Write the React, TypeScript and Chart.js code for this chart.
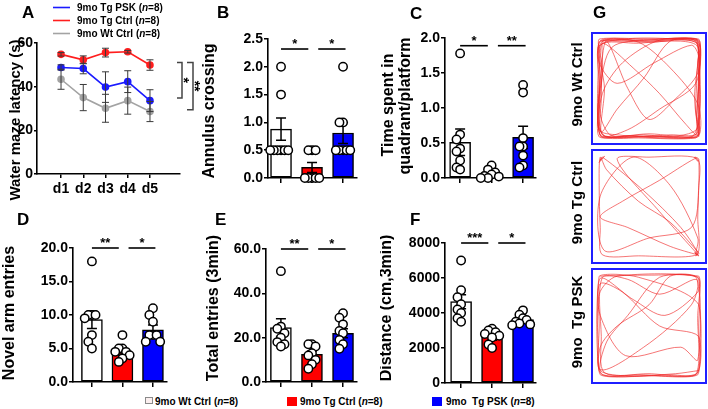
import React, { useEffect, useRef } from 'react';
import { Chart, registerables } from 'chart.js';

Chart.register(...registerables);

const FONT = '"Liberation Sans", Arial, Helvetica, sans-serif';
Chart.defaults.font.family = FONT;

const RED = '#ff0000';
const BLUE = '#0000ff';
const GRAY = '#a3a3a3';
const LINE_RED = '#ff1e1e';
const LINE_BLUE = '#1a1aff';

// ---------------- Panel A: water maze latency ----------------
const days = ['d1', 'd2', 'd3', 'd4', 'd5'];
const latencyPsk = [48.8, 48.3, 39.8, 42.3, 33.6];
const latencyPskSem = [1.2, 2.4, 7.0, 5.0, 5.0];
const latencyTg = [54.8, 52.3, 55.6, 56.0, 49.9];
const latencyTgSem = [0.8, 1.8, 2.0, 0.6, 2.4];
const latencyWt = [43.4, 35.0, 30.1, 33.6, 28.6];
const latencyWtSem = [4.6, 6.0, 6.4, 6.2, 4.6];
const latencySig = ['*', '**'];

// ---------------- Bar panels ----------------
const groupNames = ['9mo Wt Ctrl', '9mo Tg Ctrl', '9mo Tg PSK'];

const annulusMean = [0.88, 0.19, 0.81];
const annulusSem = [0.2, 0.09, 0.19];
const annulusWt = [2.0, 1.5, 0.5, 0.5, 0.5, 0.5, 0.5, 0.5];
const annulusTg = [0.5, 0.5, 0.5, 0, 0, 0, 0, 0];
const annulusPsk = [2.0, 1.0, 1.0, 0.5, 0.5, 0.5, 0.5, 0.5];
const annulusSig = ['*', '*'];

const quadrantMean = [0.51, 0.05, 0.58];
const quadrantSem = [0.19, 0.03, 0.16];
const quadrantWt = [1.78, 0.62, 0.55, 0.42, 0.38, 0.25, 0.12, 0.15];
const quadrantTg = [0.18, 0.12, 0.08, 0.05, 0.03, 0.02, 0.0, 0.0];
const quadrantPsk = [1.33, 1.22, 0.57, 0.45, 0.45, 0.32, 0.18, 0.15];
const quadrantSig = ['*', '**'];

const novelMean = [9.3, 4.4, 7.8];
const novelSem = [1.3, 0.4, 0.7];
const novelWt = [18, 10, 10, 10, 9.5, 7, 6, 5];
const novelTg = [7, 5, 5, 4.5, 4.5, 4, 3.5, 3];
const novelPsk = [11, 10, 9, 7, 7, 7, 6, 6];
const novelSig = ['**', '*'];

const totalMean = [24.5, 12.5, 22.0];
const totalSem = [4.0, 1.5, 2.0];
const totalWt = [50, 25, 24, 22, 20, 18, 17, 16];
const totalTg = [17, 17, 16, 13, 12, 10, 8, 6];
const totalPsk = [31, 29, 26, 23, 22, 19, 17, 15];
const totalSig = ['**', '*'];

const distanceMean = [4650, 2650, 3620];
const distanceSem = [400, 200, 150];
const distanceWt = [7000, 5300, 4900, 4500, 4200, 4000, 3700, 3500];
const distanceTg = [3100, 3000, 2900, 2800, 2700, 2600, 2200, 2000];
const distancePsk = [4150, 3900, 3700, 3600, 3500, 3400, 3350, 3300];
const distanceSig = ['***', '*'];

// ---------------- Panel G: open field tracks (arena units 0-100) ----------------
const trackWt: number[][] = [
  [4, 96], [30, 97], [60, 98], [96, 97], [97, 70], [96, 40], [97, 10], [95, 3], [60, 2], [30, 4], [3, 3], [2, 30],
  [4, 60], [3, 95], [20, 96], [50, 95], [94, 95], [95, 60], [94, 30], [95, 6], [70, 5], [40, 3], [6, 5], [5, 40],
  [6, 80], [7, 94], [35, 70], [60, 45], [85, 15], [96, 5], [97, 50], [98, 96], [70, 96], [45, 60], [20, 30], [5, 8],
  [8, 50], [4, 92], [40, 94], [80, 96], [96, 90], [95, 20], [93, 4], [50, 6], [8, 4], [3, 20], [5, 70], [10, 96],
  [30, 50], [50, 20], [75, 40], [96, 65], [96, 96], [60, 97], [25, 75], [6, 45], [4, 5], [35, 4], [80, 3], [97, 4],
  [96, 35], [70, 70], [40, 95], [5, 97], [3, 75], [20, 55], [55, 75], [90, 92], [97, 80], [96, 12], [65, 3], [20, 5],
  [3, 10], [4, 50], [15, 90], [50, 97], [97, 98], [94, 55], [60, 30], [30, 10], [4, 4], [2, 65], [6, 96], [45, 96],
  [95, 96], [97, 30], [94, 2], [40, 2], [5, 3], [3, 40], [4, 85], [8, 97], [50, 96], [93, 97], [97, 60], [95, 25],
  [97, 5], [75, 2], [45, 5], [10, 3], [2, 15], [3, 55], [2, 90], [25, 98], [75, 98], [97, 93], [96, 75], [98, 45],
  [96, 15], [90, 3], [55, 4], [15, 4], [4, 25], [6, 70], [3, 98], [55, 98], [95, 98], [93, 40], [97, 3],
];
const trackTg: number[][] = [
  [5, 96], [3, 92], [8, 98], [4, 94], [6, 97], [45, 65], [80, 30], [96, 6], [94, 3], [97, 5], [95, 8], [70, 35],
  [40, 55], [10, 85], [4, 97], [3, 70], [4, 30], [6, 4], [40, 3], [95, 4], [96, 40], [97, 95], [93, 97], [96, 93],
  [94, 96], [60, 75], [25, 55], [4, 40], [30, 30], [70, 12], [96, 4], [93, 6], [97, 3], [60, 45], [20, 95], [50, 97],
  [95, 96], [97, 70], [90, 30], [50, 20], [8, 8], [4, 60], [35, 97], [70, 70], [96, 20], [94, 5], [96, 8],
];
const trackPsk: number[][] = [
  [4, 97], [50, 98], [96, 96], [97, 50], [96, 4], [50, 3], [4, 4], [3, 50], [4, 95], [35, 75], [65, 60], [96, 82],
  [96, 96], [60, 96], [30, 60], [10, 35], [5, 5], [40, 4], [95, 5], [97, 40], [60, 50], [25, 82], [4, 90], [4, 60],
  [28, 22], [80, 30], [96, 18], [95, 95], [70, 97], [50, 70], [20, 50], [4, 30], [6, 4], [70, 4], [96, 6], [97, 70],
  [40, 96], [3, 97], [3, 10], [45, 30], [90, 70], [95, 94], [60, 80], [30, 94], [6, 96], [5, 40], [8, 6], [50, 5],
  [94, 4], [96, 60], [97, 97], [20, 97], [3, 80], [2, 30], [4, 8], [30, 3], [75, 5], [97, 8],
];

// ---------------- helpers ----------------
type Box = { left: number; top: number; width: number; height: number };
type Area = { left: number; right: number; top: number; bottom: number };

function drawRotated(ctx: CanvasRenderingContext2D, t: string, x: number, y: number, font: string, angle = -Math.PI / 2,
  baseline: CanvasTextBaseline = 'middle') {
  ctx.save();
  ctx.translate(x, y);
  ctx.rotate(angle);
  ctx.font = font;
  ctx.fillStyle = '#000';
  ctx.textAlign = 'center';
  ctx.textBaseline = baseline;
  ctx.fillText(t, 0, 0);
  ctx.restore();
}

function drawRich(ctx: CanvasRenderingContext2D, parts: Array<[string, boolean]>, x: number, y: number, size: number) {
  let cx = x;
  ctx.fillStyle = '#000';
  ctx.textAlign = 'left';
  ctx.textBaseline = 'alphabetic';
  for (const [t, it] of parts) {
    ctx.font = `${it ? 'italic ' : ''}bold ${size}px ${FONT}`;
    ctx.fillText(t, cx, y);
    cx += ctx.measureText(t).width;
  }
}

function drawLetter(ctx: CanvasRenderingContext2D, letter: string, x: number, y: number) {
  ctx.font = `bold 17px ${FONT}`;
  ctx.fillStyle = '#000';
  ctx.textAlign = 'left';
  ctx.textBaseline = 'alphabetic';
  ctx.fillText(letter, x, y);
}

// compact beeswarm: spreads overlapping dots sideways (layout only)
function swarm(groups: number[][], pxX: number, pxY: number) {
  const STEP = 3.6;
  const MIN_D = 3.6;
  const V = 0.5;
  const out: { x: number; y: number }[] = [];
  groups.forEach((vals, g) => {
    const placed: { x: number; y: number }[] = [];
    [...vals].sort((a, b) => b - a).forEach((v) => {
      const yp = v * pxY;
      let chosen = 0;
      for (let k = 0; k < 30; k++) {
        const off = (k === 0 ? 0 : (k % 2 === 1 ? -1 : 1) * Math.ceil(k / 2)) * STEP;
        if (placed.every((p) => Math.hypot(p.x - off, (p.y - yp) * V) >= MIN_D)) {
          chosen = off;
          break;
        }
      }
      placed.push({ x: chosen, y: yp });
      out.push({ x: g + chosen / pxX, y: v });
    });
  });
  return out;
}

const axisGrid = (tickLength: number) => ({
  display: true,
  drawOnChartArea: false,
  drawTicks: true,
  offset: false,
  tickLength,
  color: '#000',
  lineWidth: 1.5,
});
const axisBorder = { display: true, color: '#000', width: 1.6 };
const tickFont = { family: FONT, size: 14, weight: 'bold' as const };

// ---------------- Panel A ----------------
function LatencyPanel() {
  const ref = useRef<HTMLCanvasElement>(null);
  useEffect(() => {
    const box: Box = { left: 0, top: 0, width: 212, height: 205 };
    const area: Area = { left: 37, right: 180, top: 43, bottom: 174 };
    const series = [
      { label: '9mo Wt Ctrl', values: latencyWt, sem: latencyWtSem, color: GRAY },
      { label: '9mo Tg PSK', values: latencyPsk, sem: latencyPskSem, color: LINE_BLUE },
      { label: '9mo Tg Ctrl', values: latencyTg, sem: latencyTgSem, color: LINE_RED },
    ];
    const plugin = {
      id: 'latencyDecor',
      afterDatasetsDraw(chart: any) {
        const ctx = chart.ctx as CanvasRenderingContext2D;
        const xs = chart.scales.x;
        const ys = chart.scales.y;
        ctx.save();
        ctx.lineWidth = 1;
        series.forEach((s) => {
          ctx.strokeStyle = '#3a3a3a';
          s.values.forEach((v, i) => {
            const x = xs.getPixelForValue(i + 1);
            const yt = ys.getPixelForValue(v + s.sem[i]);
            const yb = ys.getPixelForValue(v - s.sem[i]);
            ctx.beginPath();
            ctx.moveTo(x, yt); ctx.lineTo(x, yb);
            ctx.moveTo(x - 3.5, yt); ctx.lineTo(x + 3.5, yt);
            ctx.moveTo(x - 3.5, yb); ctx.lineTo(x + 3.5, yb);
            ctx.stroke();
          });
        });
        ctx.restore();
      },
      afterDraw(chart: any) {
        const ctx = chart.ctx as CanvasRenderingContext2D;
        const ys = chart.scales.y;
        const ca = chart.chartArea;
        ctx.save();
        // significance brackets at day 5
        const last = days.length - 1;
        const yTop = ys.getPixelForValue(latencyTg[last] + 1.2);
        const yPsk = ys.getPixelForValue(latencyPsk[last] + 1.2);
        const yWt = ys.getPixelForValue(latencyWt[last] + 0.8);
        ctx.strokeStyle = '#444';
        ctx.lineWidth = 1.5;
        const b1 = ca.right + 2;
        const b2 = ca.right + 13;
        ctx.beginPath();
        ctx.moveTo(b1 - 5, yTop); ctx.lineTo(b1, yTop); ctx.lineTo(b1, yPsk); ctx.lineTo(b1 - 5, yPsk);
        ctx.moveTo(b2 - 6, yTop); ctx.lineTo(b2, yTop); ctx.lineTo(b2, yWt); ctx.lineTo(b2 - 6, yWt);
        ctx.stroke();
        ctx.fillStyle = '#000';
        drawRotated(ctx, latencySig[0], b1 - 3, (yTop + yPsk) / 2, `bold 14px ${FONT}`, Math.PI / 2, 'alphabetic');
        drawRotated(ctx, latencySig[1], b2 - 3, (yTop + yWt) / 2, `bold 14px ${FONT}`, Math.PI / 2, 'alphabetic');

        // letter, title, legend (global coords)
        ctx.translate(-box.left, -box.top);
        drawLetter(ctx, 'A', 22, 18);
        drawRotated(ctx, 'Water maze latency (s)', 16, 120, `bold 15px ${FONT}`);
        const legend = [series[1], series[2], series[0]];
        legend.forEach((s, i) => {
          const by = 11 + i * 13;
          ctx.strokeStyle = s.color;
          ctx.lineWidth = 1.6;
          ctx.beginPath();
          ctx.moveTo(53, by - 3.5);
          ctx.lineTo(70, by - 3.5);
          ctx.stroke();
          drawRich(ctx, [[s.label + ' (', false], ['n', true], ['=8)', false]], 77, by, 10);
        });
        ctx.restore();
      },
    };
    const chart = new Chart(ref.current as HTMLCanvasElement, {
      type: 'line',
      data: {
        datasets: series.map((s) => ({
          label: s.label,
          data: s.values.map((v, i) => ({ x: i + 1, y: v })),
          borderColor: s.color,
          backgroundColor: s.color,
          pointBackgroundColor: s.color,
          pointBorderColor: s.color,
          pointRadius: 3,
          borderWidth: 1.6,
          clip: false as any,
        })),
      },
      options: {
        responsive: false,
        animation: false,
        devicePixelRatio: 1,
        events: [],
        layout: { padding: { left: 0, top: area.top - box.top, right: box.left + box.width - area.right, bottom: 0 } },
        plugins: { legend: { display: false }, tooltip: { enabled: false } },
        scales: {
          x: {
            type: 'linear',
            min: -0.08,
            max: 6.35,
            afterBuildTicks: (s: any) => { s.ticks = days.map((_, i) => ({ value: i + 1 })); },
            ticks: { callback: (v: any) => days[Number(v) - 1] ?? '', font: tickFont, color: '#000', padding: 3, maxRotation: 0 },
            grid: axisGrid(4),
            border: axisBorder,
            afterFit: (s: any) => { s.height = box.top + box.height - area.bottom; },
          },
          y: {
            type: 'linear',
            min: 0,
            max: 60,
            ticks: { stepSize: 20, font: tickFont, color: '#000', padding: 1 },
            grid: axisGrid(3),
            border: axisBorder,
            afterFit: (s: any) => { s.width = area.left - box.left; },
          },
        },
      } as any,
      plugins: [plugin],
    });
    return () => chart.destroy();
  }, []);
  return <canvas ref={ref} width={212} height={205} style={{ position: 'absolute', left: 0, top: 0, width: 212, height: 205 }} />;
}

// ---------------- Bar + dot panels ----------------
type BarPanelProps = {
  letter: string;
  letterPos: [number, number];
  titles: { text: string; x: number; y: number }[];
  box: Box;
  area: Area;
  xMin: number;
  xMax: number;
  yMax: number;
  yStep: number;
  decimals: number;
  means: number[];
  sems: number[];
  points: number[][];
  sig: string[];
  sigY: number;
};

function BarPanel(p: BarPanelProps) {
  const ref = useRef<HTMLCanvasElement>(null);
  useEffect(() => {
    const { box, area } = p;
    const pxX = (area.right - area.left) / (p.xMax - p.xMin);
    const pxY = (area.bottom - area.top) / p.yMax;
    const dots = swarm(p.points, pxX, pxY);
    const plugin = {
      id: 'barDecor',
      afterDatasetDraw(chart: any, args: any) {
        if (args.index !== 0) return;
        const ctx = chart.ctx as CanvasRenderingContext2D;
        const xs = chart.scales.x;
        const ys = chart.scales.y;
        ctx.save();
        ctx.strokeStyle = '#000';
        ctx.lineWidth = 1.5;
        p.means.forEach((m, i) => {
          const x = xs.getPixelForValue(i);
          const yt = ys.getPixelForValue(m + p.sems[i]);
          const yb = ys.getPixelForValue(Math.max(0, m - p.sems[i]));
          ctx.beginPath();
          ctx.moveTo(x, yt); ctx.lineTo(x, yb);
          ctx.moveTo(x - 5, yt); ctx.lineTo(x + 5, yt);
          ctx.moveTo(x - 5, yb); ctx.lineTo(x + 5, yb);
          ctx.stroke();
        });
        ctx.restore();
      },
      afterDraw(chart: any) {
        const ctx = chart.ctx as CanvasRenderingContext2D;
        const xs = chart.scales.x;
        const ys = chart.scales.y;
        ctx.save();
        // significance lines between neighbouring groups
        const spans = [[0.0, 0.88], [1.2, 2.08]];
        const y = ys.getPixelForValue(p.sigY);
        p.sig.forEach((s, i) => {
          const x1 = xs.getPixelForValue(spans[i][0]);
          const x2 = xs.getPixelForValue(spans[i][1]);
          ctx.strokeStyle = '#000';
          ctx.lineWidth = 1.6;
          ctx.beginPath();
          ctx.moveTo(x1, y);
          ctx.lineTo(x2, y);
          ctx.stroke();
          ctx.font = `bold 13px ${FONT}`;
          ctx.fillStyle = '#000';
          ctx.textAlign = 'center';
          ctx.textBaseline = 'alphabetic';
          ctx.fillText(s, (x1 + x2) / 2, y - 1);
        });
        ctx.translate(-box.left, -box.top);
        drawLetter(ctx, p.letter, p.letterPos[0], p.letterPos[1]);
        p.titles.forEach((t) => drawRotated(ctx, t.text, t.x, t.y, `bold 16px ${FONT}`));
        ctx.restore();
      },
    };
    const chart = new Chart(ref.current as HTMLCanvasElement, {
      type: 'bar',
      data: {
        datasets: [
          {
            type: 'bar',
            label: 'mean',
            data: p.means.map((m, i) => ({ x: i, y: m })),
            backgroundColor: ['#ffffff', RED, BLUE],
            borderColor: '#000',
            borderWidth: 1.5,
            borderSkipped: false,
            barThickness: 21,
            order: 2,
          },
          {
            type: 'scatter',
            label: 'animals',
            data: dots,
            pointRadius: 4.2,
            pointBackgroundColor: '#ffffff',
            pointBorderColor: '#000',
            pointBorderWidth: 1.5,
            clip: false as any,
            order: 1,
          },
        ],
      } as any,
      options: {
        responsive: false,
        animation: false,
        devicePixelRatio: 1,
        events: [],
        layout: { padding: { left: 0, top: area.top - box.top, right: box.left + box.width - area.right, bottom: 0 } },
        plugins: { legend: { display: false }, tooltip: { enabled: false } },
        scales: {
          x: {
            type: 'linear',
            offset: false,
            min: p.xMin,
            max: p.xMax,
            afterBuildTicks: (s: any) => { s.ticks = groupNames.map((_, i) => ({ value: i })); },
            ticks: { display: false },
            grid: axisGrid(5),
            border: axisBorder,
            afterFit: (s: any) => { s.height = box.top + box.height - area.bottom; },
          },
          y: {
            type: 'linear',
            min: 0,
            max: p.yMax,
            ticks: {
              stepSize: p.yStep,
              callback: (v: any) => Number(v).toFixed(p.decimals),
              font: tickFont,
              color: '#000',
              padding: 1,
            },
            grid: axisGrid(4),
            border: axisBorder,
            afterFit: (s: any) => { s.width = area.left - box.left; },
          },
        },
      } as any,
      plugins: [plugin],
    });
    return () => chart.destroy();
  }, []);
  const { box } = p;
  return (
    <canvas
      ref={ref}
      width={box.width}
      height={box.height}
      style={{ position: 'absolute', left: box.left, top: box.top, width: box.width, height: box.height }}
    />
  );
}

// ---------------- Panel G tracks ----------------
type TrackProps = { track: number[][]; label: string; box: Box; frame: Area; letter?: string };

function TrackPanel(p: TrackProps) {
  const ref = useRef<HTMLCanvasElement>(null);
  useEffect(() => {
    const { box, frame } = p;
    const inset = 5;
    const plugin = {
      id: 'trackDecor',
      afterDraw(chart: any) {
        const ctx = chart.ctx as CanvasRenderingContext2D;
        ctx.save();
        ctx.translate(-box.left, -box.top);
        ctx.strokeStyle = '#1f1fff';
        ctx.lineWidth = 2;
        ctx.strokeRect(frame.left + 1, frame.top + 1, frame.right - frame.left - 2, frame.bottom - frame.top - 2);
        drawRotated(ctx, p.label, 578, (frame.top + frame.bottom) / 2 - 4, `bold 15px ${FONT}`);
        if (p.letter) drawLetter(ctx, p.letter, 593, 18);
        ctx.restore();
      },
    };
    const chart = new Chart(ref.current as HTMLCanvasElement, {
      type: 'scatter',
      data: {
        datasets: [
          {
            data: p.track.map(([x, y]) => ({ x, y })),
            showLine: true,
            tension: 0.3,
            borderColor: 'rgba(240, 40, 40, 0.8)',
            borderWidth: 0.8,
            pointRadius: 0,
            clip: false as any,
          },
        ],
      },
      options: {
        responsive: false,
        animation: false,
        devicePixelRatio: 1,
        events: [],
        layout: {
          padding: {
            left: frame.left + inset - box.left,
            right: box.left + box.width - (frame.right - inset),
            top: frame.top + inset - box.top,
            bottom: box.top + box.height - (frame.bottom - inset),
          },
        },
        plugins: { legend: { display: false }, tooltip: { enabled: false } },
        scales: {
          x: { type: 'linear', min: 0, max: 100, display: false },
          y: { type: 'linear', min: 0, max: 100, display: false },
        },
      } as any,
      plugins: [plugin],
    });
    return () => chart.destroy();
  }, []);
  const { box } = p;
  return (
    <canvas
      ref={ref}
      width={box.width}
      height={box.height}
      style={{ position: 'absolute', left: box.left, top: box.top, width: box.width, height: box.height }}
    />
  );
}

// ---------------- bottom legend ----------------
const legendLabels = ['9mo Wt Ctrl', '9mo Tg Ctrl', '9mo  Tg PSK'];

function BottomLegend() {
  const items = [
    { fill: '#fbefef', border: '#8a8a8a', x: 145, textX: 155, size: 8 },
    { fill: RED, border: RED, x: 287, textX: 300, size: 10 },
    { fill: BLUE, border: BLUE, x: 432, textX: 446, size: 10 },
  ];
  return (
    <>
      {items.map((it, i) => (
        <React.Fragment key={i}>
          <div
            style={{
              position: 'absolute',
              left: it.x,
              top: 397,
              width: it.size,
              height: it.size - 1,
              background: it.fill,
              border: `1px solid ${it.border}`,
              boxSizing: 'border-box',
            }}
          />
          <div
            style={{
              position: 'absolute',
              left: it.textX,
              top: 396,
              fontFamily: FONT,
              fontWeight: 'bold',
              fontSize: 10,
              lineHeight: '12px',
              whiteSpace: 'pre',
              color: '#000',
            }}
          >
            {legendLabels[i]} (<i>n</i>=8)
          </div>
        </React.Fragment>
      ))}
    </>
  );
}

export default function App() {
  return (
    <div style={{ position: 'absolute', left: 0, top: 0, width: 708, height: 409, background: '#fff', overflow: 'hidden' }}>
      <LatencyPanel />
      <BarPanel
        letter="B"
        letterPos={[217, 18]}
        titles={[{ text: 'Annulus crossing', x: 210, y: 111 }]}
        box={{ left: 190, top: 0, width: 190, height: 205 }}
        area={{ left: 268, right: 357, top: 39, bottom: 178 }}
        xMin={-0.42}
        xMax={2.45}
        yMax={2.5}
        yStep={0.5}
        decimals={1}
        means={annulusMean}
        sems={annulusSem}
        points={[annulusWt, annulusTg, annulusPsk]}
        sig={annulusSig}
        sigY={2.32}
      />
      <BarPanel
        letter="C"
        letterPos={[410, 19]}
        titles={[
          { text: 'Time spent in', x: 389, y: 105 },
          { text: 'quadrant/platform', x: 406, y: 106 },
        ]}
        box={{ left: 380, top: 0, width: 190, height: 205 }}
        area={{ left: 445, right: 536, top: 38, bottom: 178 }}
        xMin={-0.48}
        xMax={2.41}
        yMax={2.0}
        yStep={0.5}
        decimals={1}
        means={quadrantMean}
        sems={quadrantSem}
        points={[quadrantWt, quadrantTg, quadrantPsk]}
        sig={quadrantSig}
        sigY={1.89}
      />
      <BarPanel
        letter="D"
        letterPos={[17, 225]}
        titles={[{ text: 'Novel arm entries', x: 10, y: 313 }]}
        box={{ left: 0, top: 205, width: 190, height: 190 }}
        area={{ left: 73, right: 167, top: 248, bottom: 382 }}
        xMin={-0.62}
        xMax={2.46}
        yMax={20}
        yStep={5}
        decimals={1}
        means={novelMean}
        sems={novelSem}
        points={[novelWt, novelTg, novelPsk]}
        sig={novelSig}
        sigY={20}
      />
      <BarPanel
        letter="E"
        letterPos={[215, 225]}
        titles={[{ text: 'Total entries (3min)', x: 214, y: 308 }]}
        box={{ left: 190, top: 205, width: 190, height: 190 }}
        area={{ left: 266, right: 357, top: 249, bottom: 382 }}
        xMin={-0.48}
        xMax={2.45}
        yMax={60}
        yStep={20}
        decimals={1}
        means={totalMean}
        sems={totalSem}
        points={[totalWt, totalTg, totalPsk]}
        sig={totalSig}
        sigY={60}
      />
      <BarPanel
        letter="F"
        letterPos={[410, 225]}
        titles={[{ text: 'Distance (cm,3min)', x: 387, y: 308 }]}
        box={{ left: 380, top: 205, width: 190, height: 190 }}
        area={{ left: 445, right: 536, top: 243, bottom: 383 }}
        xMin={-0.52}
        xMax={2.42}
        yMax={8000}
        yStep={2000}
        decimals={0}
        means={distanceMean}
        sems={distanceSem}
        points={[distanceWt, distanceTg, distancePsk]}
        sig={distanceSig}
        sigY={8000}
      />
      <TrackPanel
        track={trackWt}
        label="9mo Wt Ctrl"
        letter="G"
        box={{ left: 570, top: 0, width: 138, height: 147 }}
        frame={{ left: 591, right: 707, top: 32, bottom: 145 }}
      />
      <TrackPanel
        track={trackTg}
        label="9mo Tg Ctrl"
        box={{ left: 570, top: 147, width: 138, height: 119 }}
        frame={{ left: 591, right: 707, top: 149, bottom: 264 }}
      />
      <TrackPanel
        track={trackPsk}
        label="9mo  Tg PSK"
        box={{ left: 570, top: 266, width: 138, height: 120 }}
        frame={{ left: 591, right: 707, top: 268, bottom: 384 }}
      />
      <BottomLegend />
    </div>
  );
}
